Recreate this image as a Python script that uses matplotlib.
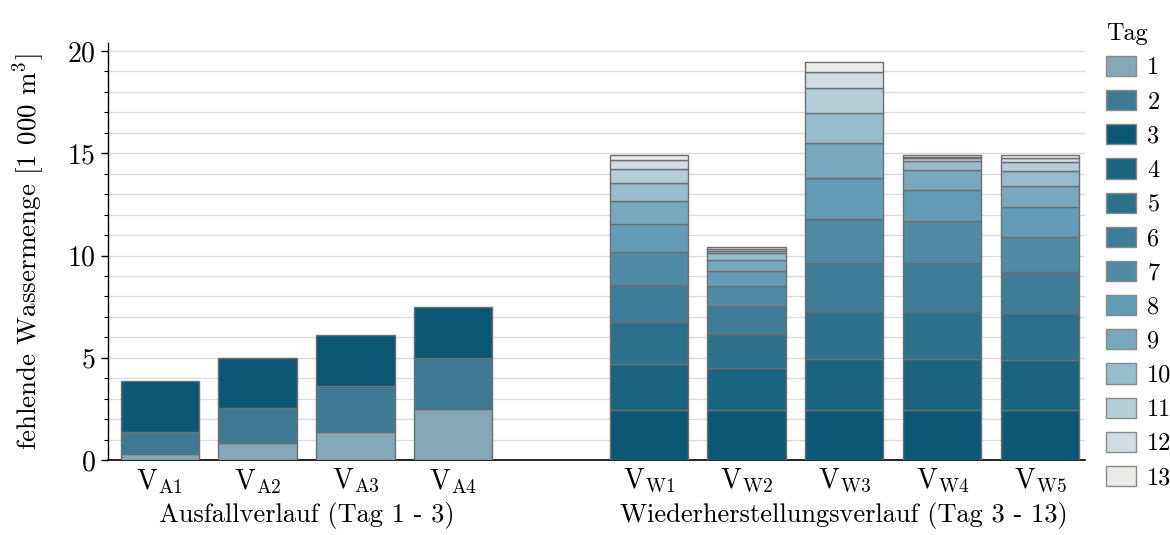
import matplotlib
matplotlib.use("Agg")
import matplotlib.pyplot as plt
from matplotlib.patches import Patch
import numpy as np

plt.rcParams["font.family"] = ["cmr10", "DejaVu Serif"]
plt.rcParams["mathtext.fontset"] = "cm"
plt.rcParams["axes.unicode_minus"] = False
plt.rcParams["axes.formatter.use_mathtext"] = True

# Fehlende Wassermenge je Tag [1 000 m^3]
# Ausfallverlauf: Tage 1 - 3
tage_ausfall = [1, 2, 3]
v_a1 = [0.28, 1.09, 2.51]
v_a2 = [0.82, 1.72, 2.46]
v_a3 = [1.36, 2.26, 2.48]
v_a4 = [2.49, 2.51, 2.50]

# Wiederherstellungsverlauf: Tage 3 - 13
tage_wieder = [3, 4, 5, 6, 7, 8, 9, 10, 11, 12, 13]
v_w1 = [2.47, 2.25, 2.05, 1.80, 1.61, 1.38, 1.11, 0.89, 0.69, 0.44, 0.24]
v_w2 = [2.47, 2.04, 1.67, 1.34, 1.00, 0.74, 0.51, 0.33, 0.13, 0.11, 0.08]
v_w3 = [2.47, 2.47, 2.36, 2.32, 2.16, 1.99, 1.75, 1.46, 1.19, 0.82, 0.46]
v_w4 = [2.47, 2.45, 2.38, 2.32, 2.05, 1.53, 0.96, 0.44, 0.15, 0.08, 0.08]
v_w5 = [2.47, 2.42, 2.28, 2.01, 1.74, 1.44, 1.04, 0.75, 0.44, 0.16, 0.17]

labels_ausfall = [r"V$_{\mathrm{A1}}$", r"V$_{\mathrm{A2}}$", r"V$_{\mathrm{A3}}$", r"V$_{\mathrm{A4}}$"]
labels_wieder = [r"V$_{\mathrm{W1}}$", r"V$_{\mathrm{W2}}$", r"V$_{\mathrm{W3}}$",
                 r"V$_{\mathrm{W4}}$", r"V$_{\mathrm{W5}}$"]

tag_farben = {
    1: "#84a8b8", 2: "#3e7a94", 3: "#0b5775", 4: "#1b6480", 5: "#2c708b",
    6: "#3e7c97", 7: "#4f8ba4", 8: "#639cb6", 9: "#78a8be", 10: "#96bccd",
    11: "#b3cdd9", 12: "#d1dde3", 13: "#e9ebe6",
}

fig = plt.figure(figsize=(11.7, 5.35), dpi=100)
ax = fig.add_axes([0.0923, 0.140, 0.835, 0.78])

pos_ausfall = [0, 1, 2, 3]
pos_wieder = [5, 6, 7, 8, 9]
breite = 0.8
kante = "#6e6e6e"


def stapel(x, werte, tage):
    unten = 0.0
    for tag, w in zip(tage, werte):
        ax.bar(x, w, bottom=unten, width=breite, color=tag_farben[tag],
               edgecolor=kante, linewidth=1.0, zorder=3)
        unten += w


for x, werte in zip(pos_ausfall, [v_a1, v_a2, v_a3, v_a4]):
    stapel(x, werte, tage_ausfall)
for x, werte in zip(pos_wieder, [v_w1, v_w2, v_w3, v_w4, v_w5]):
    stapel(x, werte, tage_wieder)

ax.set_xlim(-0.53, 9.46)
ax.set_ylim(0, 20.4)
ax.set_yticks([0, 5, 10, 15, 20])
ax.set_yticks(np.arange(0, 21, 1), minor=True)
ax.grid(True, which="both", axis="y", color="#dcdcdc", linewidth=1.0, zorder=0)
ax.set_axisbelow(True)

ax.set_xticks(pos_ausfall + pos_wieder)
ax.set_xticklabels(labels_ausfall + labels_wieder, fontsize=20)
ax.tick_params(axis="x", length=0, pad=5)
ax.tick_params(axis="y", which="major", length=5, width=1, labelsize=20, pad=4)
ax.tick_params(axis="y", which="minor", length=3, width=0.8)

for s in ["top", "right"]:
    ax.spines[s].set_visible(False)
ax.spines["left"].set_linewidth(1.0)
ax.spines["bottom"].set_linewidth(1.2)

ax.set_ylabel(r"fehlende Wassermenge [1 000 m$^{3}$]", fontsize=19.5, labelpad=14)

ax.text(np.mean(pos_ausfall), -0.10, "Ausfallverlauf (Tag 1 - 3)",
        transform=ax.get_xaxis_transform(), ha="center", va="top", fontsize=19)
ax.text(np.mean(pos_wieder), -0.10, "Wiederherstellungsverlauf (Tag 3 - 13)",
        transform=ax.get_xaxis_transform(), ha="center", va="top", fontsize=19)

handles = [Patch(facecolor=tag_farben[t], edgecolor="#8a8a8a", linewidth=1.0)
           for t in range(1, 14)]
leg = fig.legend(handles, [str(t) for t in range(1, 14)], title="Tag",
                 loc="upper left", bbox_to_anchor=(0.937, 0.975), frameon=False,
                 fontsize=17.5, title_fontsize=17.5, handlelength=1.25,
                 handleheight=0.9, labelspacing=0.44, handletextpad=0.45,
                 borderaxespad=0.0)
leg._legend_box.align = "left"

fig.savefig("out.png", dpi=100)
